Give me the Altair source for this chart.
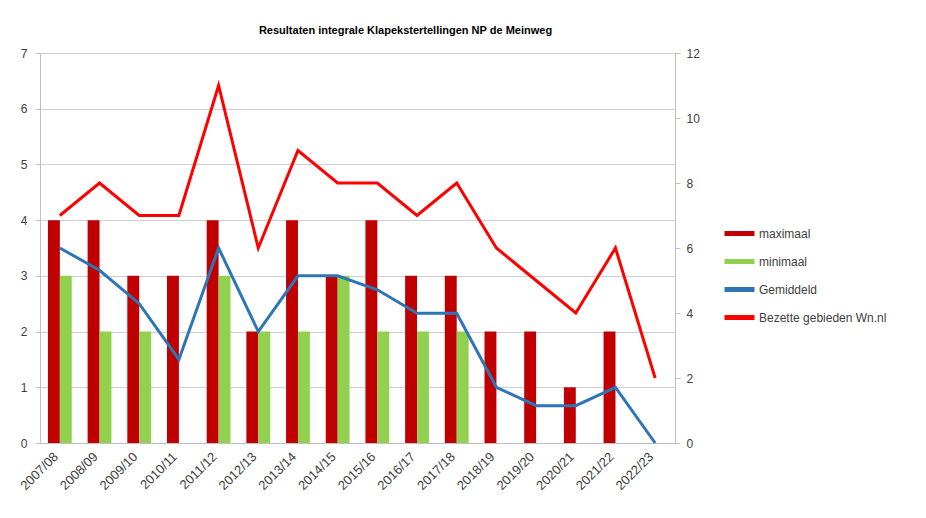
import altair as alt
import pandas as pd

seasons = ["2007/08", "2008/09", "2009/10", "2010/11", "2011/12", "2012/13", "2013/14",
           "2014/15", "2015/16", "2016/17", "2017/18", "2018/19", "2019/20", "2020/21",
           "2021/22", "2022/23"]
maximaal = [4, 4, 3, 3, 4, 2, 4, 3, 4, 3, 3, 2, 2, 1, 2, 0]
minimaal = [3, 2, 2, 0, 3, 2, 2, 3, 2, 2, 2, 0, 0, 0, 0, 0]
gemiddeld = [3.5, 3.1, 2.5, 1.5, 3.5, 2.0, 3.0, 3.0, 2.75, 2.33, 2.33, 1.0, 0.67, 0.67, 1.0, 0.0]
bezet = [7, 8, 7, 7, 11, 6, 9, 8, 8, 7, 8, 6, 5, 4, 6, 2]

series_names = ["maximaal", "minimaal", "Gemiddeld", "Bezette gebieden Wn.nl"]
series_colors = ["#C00000", "#92D050", "#2E75B6", "#FF0000"]

bar_df = pd.DataFrame(
    [{"season": s, "series": "maximaal", "value": v} for s, v in zip(seasons, maximaal)]
    + [{"season": s, "series": "minimaal", "value": v} for s, v in zip(seasons, minimaal)]
)
gem_df = pd.DataFrame({"season": seasons, "series": "Gemiddeld", "value": gemiddeld})
bez_df = pd.DataFrame({"season": seasons, "series": "Bezette gebieden Wn.nl", "value": bezet})

FONT = "Liberation Sans"
color_scale = alt.Scale(domain=series_names, range=series_colors)
legend = alt.Legend(
    title=None, orient="none", legendX=682, legendY=163,
    symbolType="stroke", symbolStrokeWidth=5, symbolSize=900,
    labelFont=FONT, labelFontSize=12, labelColor="#404040", rowPadding=0,
    labelOffset=2,
)

x_enc = alt.X(
    "season:N", sort=seasons, title=None,
    scale=alt.Scale(paddingInner=0.4, paddingOuter=0.2),
    axis=alt.Axis(labelAngle=-45, labelFont=FONT, labelFontSize=13, labelColor="#404040",
                  domainColor="#BFBFBF", ticks=False, labelPadding=7, labelOffset=-8),
)

bars = alt.Chart(bar_df).mark_bar().encode(
    x=x_enc,
    xOffset=alt.XOffset("series:N", sort=["maximaal", "minimaal"], scale=alt.Scale(paddingInner=0)),
    y=alt.Y("value:Q", title=None, scale=alt.Scale(domain=[0, 7]),
            axis=alt.Axis(values=list(range(8)), grid=True, gridColor="#D0D0D0",
                          domain=True, domainColor="#BFBFBF", tickColor="#BFBFBF",
                          labelFont=FONT, labelFontSize=12, labelColor="#404040", labelPadding=8)),
    color=alt.Color("series:N", scale=color_scale, legend=legend),
)

gem_line = alt.Chart(gem_df).mark_line(strokeWidth=3).encode(
    x=alt.X("season:N", sort=seasons),
    y=alt.Y("value:Q", scale=alt.Scale(domain=[0, 7]), axis=None),
    color=alt.Color("series:N", scale=color_scale, legend=legend),
)

bez_line = alt.Chart(bez_df).mark_line(strokeWidth=3).encode(
    x=alt.X("season:N", sort=seasons),
    y=alt.Y("value:Q", title=None, scale=alt.Scale(domain=[0, 12]),
            axis=alt.Axis(orient="right", values=list(range(0, 13, 2)), grid=False,
                          domainColor="#BFBFBF", tickColor="#BFBFBF",
                          labelFont=FONT, labelFontSize=12, labelColor="#404040", labelPadding=6)),
    color=alt.Color("series:N", scale=color_scale, legend=legend),
)

chart = alt.layer(bars, gem_line, bez_line).resolve_scale(y="independent").properties(
    width=635, height=390,
    autosize=alt.AutoSizeParams(type="none"),
    padding={"left": 32, "top": 45, "right": 243, "bottom": 67},
    background="white",
    title=alt.Title("Resultaten integrale Klapekstertellingen NP de Meinweg",
                    font=FONT, fontSize=11, fontWeight="bold", color="#000000",
                    anchor="middle", dx=48, offset=11),
).configure_view(stroke=None)

chart.save("out.html", embed_options={"renderer": "svg", "actions": False})
